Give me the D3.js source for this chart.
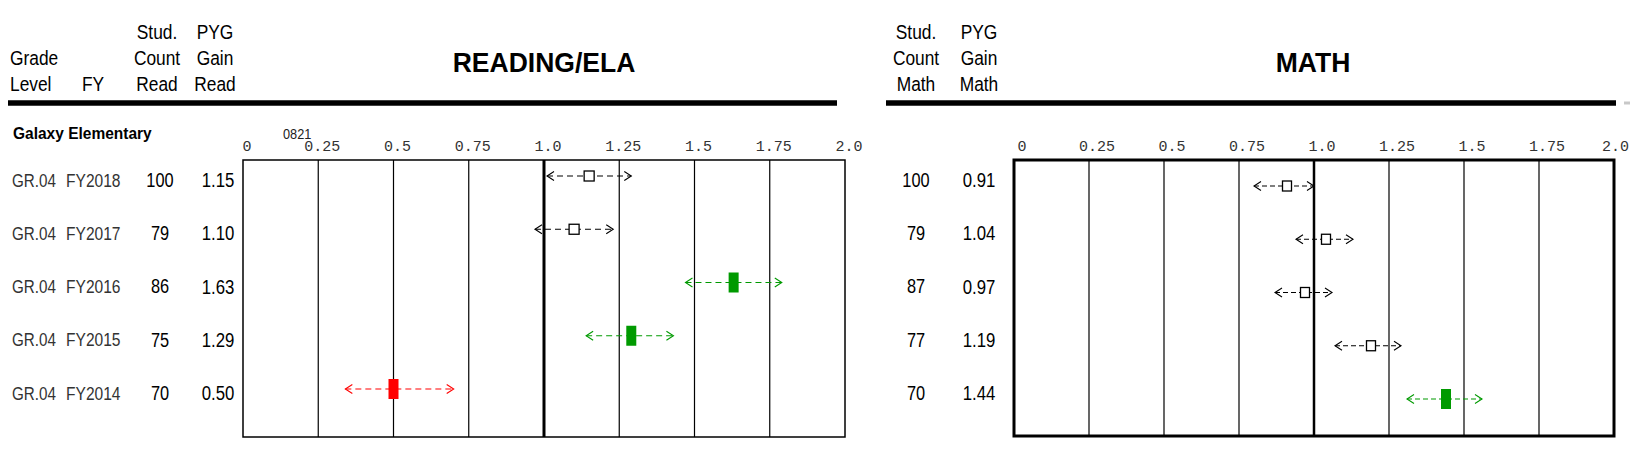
<!DOCTYPE html>
<html><head><meta charset="utf-8">
<script src="https://cdn.jsdelivr.net/npm/d3@7"></script>
<style>body{margin:0;background:#fff} svg{display:block}</style>
</head><body><svg id="c" width="1632" height="472"></svg>
<script>
// ---------- data ----------
const schoolName = "Galaxy Elementary";
const schoolCode = "0821";
const gradeLevels = ["GR.04","GR.04","GR.04","GR.04","GR.04"];
const fiscalYears = ["FY2018","FY2017","FY2016","FY2015","FY2014"];
const readCounts = [100,79,86,75,70];
const readGain   = [1.15,1.10,1.63,1.29,0.50];
const readLow    = [1.01,0.97,1.47,1.14,0.34];
const readHigh   = [1.29,1.23,1.79,1.43,0.70];
const readFlag   = ["none","none","above","above","below"];
const mathCounts = [100,79,87,77,70];
const mathGain   = [0.91,1.04,0.97,1.19,1.44];
const mathLow    = [0.80,0.94,0.87,1.07,1.31];
const mathHigh   = [1.00,1.13,1.06,1.29,1.56];
const mathFlag   = ["none","none","none","none","above"];
const tickValues = [0,0.25,0.5,0.75,1.0,1.25,1.5,1.75,2.0];
const tickLabels = ["0","0.25","0.5","0.75","1.0","1.25","1.5","1.75","2.0"];
const readTitle = "READING/ELA";
const mathTitle = "MATH";
const leftHeaders = [
  {lines:["Grade","Level"], x:10, anchor:"start"},
  {lines:["FY"], x:82, anchor:"start"},
  {lines:["Stud.","Count","Read"], x:157, anchor:"middle"},
  {lines:["PYG","Gain","Read"], x:215, anchor:"middle"}
];
const rightHeaders = [
  {lines:["Stud.","Count","Math"], x:916, anchor:"middle"},
  {lines:["PYG","Gain","Math"], x:979, anchor:"middle"}
];

// ---------- style ----------
const SANS = "'Liberation Sans',Arial,sans-serif";
const MONO = "'Liberation Mono','Courier New',monospace";
const colors = {none:"#000", above:"#009a00", below:"#ff0000"};
const W = 1632;

const svg = d3.select("#c");
const rows = d3.range(fiscalYears.length);
const y = d3.scalePoint().domain(rows).range([180, 393]);
const fmt = d3.format(".2f");

// condensed text helper
function ctext(parent, x, yy, str, o){
  return parent.append("text")
    .attr("transform", `translate(${x},${yy}) scale(${o.sx||1},1)`)
    .attr("dy", o.dy||null)
    .attr("text-anchor", o.anchor||"start")
    .attr("font-family", o.family||SANS)
    .attr("font-weight", o.weight||"normal")
    .attr("font-size", o.size)
    .attr("fill", o.fill||"#000")
    .text(str);
}

// header texts
function drawHeaders(list){
  list.forEach(h=>{
    const n = h.lines.length;
    h.lines.forEach((t,i)=>{
      ctext(svg, h.x, 91 - (n-1-i)*26, t, {size:19.5, sx:0.89, anchor:h.anchor});
    });
  });
}
drawHeaders(leftHeaders);
drawHeaders(rightHeaders);

ctext(svg, 544, 71.5, readTitle, {size:28.5, weight:"bold", anchor:"middle", sx:0.93});
ctext(svg, 1313, 71.5, mathTitle, {size:28.5, weight:"bold", anchor:"middle", sx:0.93});

// header rules
svg.append("line").attr("x1",8).attr("x2",837).attr("y1",103).attr("y2",103)
  .attr("stroke","#000").attr("stroke-width",5.5);
svg.append("line").attr("x1",886).attr("x2",1616).attr("y1",103).attr("y2",103)
  .attr("stroke","#000").attr("stroke-width",5.5);
svg.append("line").attr("x1",1624).attr("x2",1630).attr("y1",103).attr("y2",103)
  .attr("stroke","#c8c8c8").attr("stroke-width",3);

ctext(svg, 13, 139, schoolName, {size:16.5, weight:"bold", sx:0.94});
ctext(svg, 283, 139, schoolCode, {size:15, sx:0.85, fill:"#222"});

// row labels
const rowG = svg.append("g");
rows.forEach(i=>{
  ctext(rowG, 12, y(i), gradeLevels[i], {size:19, sx:0.8, dy:"0.35em", fill:"#333"});
  ctext(rowG, 66, y(i), fiscalYears[i], {size:19, sx:0.82, dy:"0.35em", fill:"#333"});
  ctext(rowG, 160, y(i), readCounts[i], {size:19.5, sx:0.84, dy:"0.35em", anchor:"middle"});
  ctext(rowG, 218, y(i), fmt(readGain[i]), {size:20, sx:0.84, dy:"0.35em", anchor:"middle"});
  ctext(rowG, 916, y(i), mathCounts[i], {size:19.5, sx:0.84, dy:"0.35em", anchor:"middle"});
  ctext(rowG, 979, y(i), fmt(mathGain[i]), {size:20, sx:0.84, dy:"0.35em", anchor:"middle"});
});

// panels
const panels = [
  {x0:243, x1:845, top:160, bottom:437, border:1.5, refW:3, markerDy:-4, labelDx:4, dash:"6,4", hollowW:10,
   gain:readGain, low:readLow, high:readHigh, flag:readFlag},
  {x0:1014, x1:1614, top:160, bottom:436, border:3, refW:2.5, markerDy:6, labelDx:8, dash:"5,3", hollowW:9,
   gain:mathGain, low:mathLow, high:mathHigh, flag:mathFlag}
];

panels.forEach(p=>{
  const x = d3.scaleLinear().domain([0,2]).range([p.x0,p.x1]);
  const g = svg.append("g");
  // tick labels
  g.selectAll("text.tick").data(tickValues).join("text")
    .attr("x",(d,i)=>Math.min(x(d)+p.labelDx, W-3-tickLabels[i].length*4.5))
    .attr("y",151).attr("text-anchor","middle")
    .attr("font-family",MONO).attr("font-size",15).attr("fill","#333")
    .text((d,i)=>tickLabels[i]);
  // gridlines
  g.selectAll("line.grid").data(tickValues.filter(v=>v>0 && v<2)).join("line")
    .attr("x1",d=>x(d)).attr("x2",d=>x(d)).attr("y1",p.top).attr("y2",p.bottom)
    .attr("stroke","#000").attr("stroke-width",d=>d===1?p.refW:1.2);
  // border
  g.append("rect").attr("x",p.x0).attr("y",p.top).attr("width",p.x1-p.x0).attr("height",p.bottom-p.top)
    .attr("fill","none").attr("stroke","#000").attr("stroke-width",p.border);
  // markers
  rows.forEach(i=>{
    const c = colors[p.flag[i]];
    const yy = y(i) + p.markerDy;
    const lo = x(p.low[i]), hi = x(p.high[i]), m = x(p.gain[i]);
    g.append("line").attr("x1",lo).attr("x2",hi).attr("y1",yy).attr("y2",yy)
      .attr("stroke",c).attr("stroke-width",1.1).attr("stroke-dasharray",p.dash);
    g.append("path").attr("d",`M${lo+7},${yy-4.5}L${lo},${yy}L${lo+7},${yy+4.5}`)
      .attr("fill","none").attr("stroke",c).attr("stroke-width",1.1);
    g.append("path").attr("d",`M${hi-7},${yy-4.5}L${hi},${yy}L${hi-7},${yy+4.5}`)
      .attr("fill","none").attr("stroke",c).attr("stroke-width",1.1);
    if (p.flag[i]==="none"){
      g.append("rect").attr("x",m-p.hollowW/2).attr("y",yy-5).attr("width",p.hollowW).attr("height",10)
        .attr("fill","#fff").attr("stroke","#000").attr("stroke-width",1.3);
    } else {
      g.append("rect").attr("x",m-5).attr("y",yy-10).attr("width",10).attr("height",20).attr("fill",c);
    }
  });
});
</script></body></html>
